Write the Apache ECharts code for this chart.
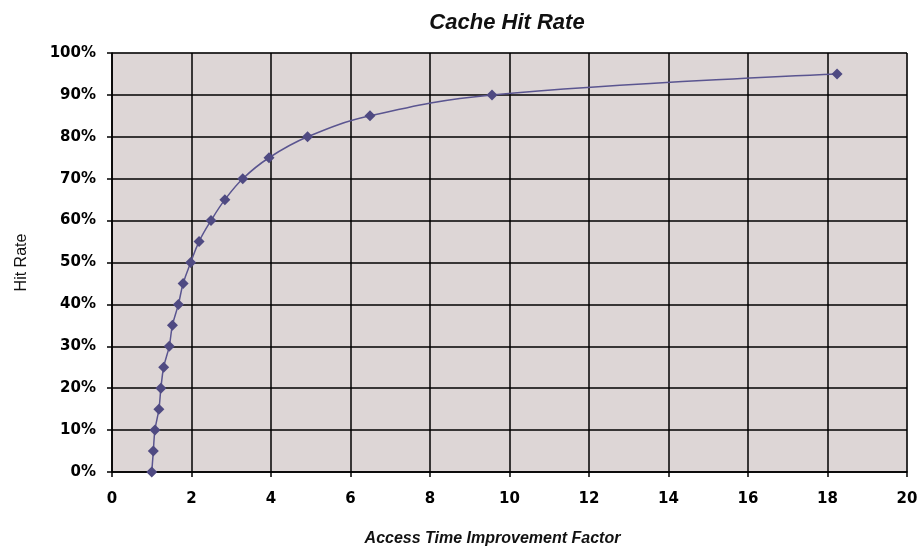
<!DOCTYPE html>
<html><head><meta charset="utf-8">
<script src="https://cdn.jsdelivr.net/npm/echarts@6/dist/echarts.min.js"></script>
<style>html,body{margin:0;padding:0;background:#fff}#c{width:918px;height:548px}</style>
</head><body><div id="c"></div>
<script>
const hitRate = [0,5,10,15,20,25,30,35,40,45,50,55,60,65,70,75,80,85,90,95];
const improvement = [1.00,1.04,1.08,1.18,1.23,1.30,1.44,1.52,1.67,1.79,1.98,2.19,2.49,2.84,3.29,3.95,4.92,6.49,9.56,18.24];
const xTicks = [0,2,4,6,8,10,12,14,16,18,20];
const yTicks = [0,10,20,30,40,50,60,70,80,90,100];

const data = improvement.map((x,i)=>[x, hitRate[i]]);
const sans = '"Liberation Sans", Arial, sans-serif';
const chart = echarts.init(document.getElementById('c'));
chart.setOption({
  animation:false,
  backgroundColor:'#fff',
  title:{text:'Cache Hit Rate', left:502, textAlign:'center', top:7,
    textStyle:{fontFamily:sans, fontStyle:'italic', fontWeight:'bold', fontSize:22, color:'#111'}},
  grid:{left:112, right:11, top:53, bottom:76, outerBoundsMode:'none', containLabel:false,
    show:true, backgroundColor:'#ddd6d6', borderColor:'#a0a0a0', borderWidth:1},
  xAxis:{type:'value', min:0, max:20, interval:2,
    name:'Access Time Improvement Factor', nameLocation:'middle', nameGap:59,
    nameTextStyle:{fontFamily:sans, fontStyle:'italic', fontWeight:'bold', fontSize:16, color:'#111', padding:[0,34,0,0]},
    axisLine:{show:true, lineStyle:{color:'#000', width:1.5}},
    axisTick:{show:true, length:5, lineStyle:{color:'#000', width:1.5}},
    axisLabel:{fontFamily:'DejaVu Sans', fontWeight:'bold', fontSize:15, color:'#000', margin:20,
      formatter:v=>xTicks.includes(v)?String(v):''},
    splitLine:{show:true, lineStyle:{color:'#000', width:1.5}}},
  yAxis:{type:'value', min:0, max:100, interval:10,
    name:'Hit Rate', nameLocation:'middle', nameGap:82, nameRotate:90,
    nameTextStyle:{fontFamily:sans, fontSize:16, color:'#111'},
    axisLine:{show:true, lineStyle:{color:'#000', width:1.5}},
    axisTick:{show:true, length:5, lineStyle:{color:'#000', width:1.5}},
    axisLabel:{fontFamily:'DejaVu Sans', fontWeight:'bold', fontSize:15, color:'#000', margin:16,
      formatter:v=>yTicks.includes(v)?v+'%':''},
    splitLine:{show:true, lineStyle:{color:'#000', width:1.5}}},
  series:[{type:'line', data:data, smooth:0.4, symbol:'diamond', symbolSize:11,
    lineStyle:{color:'#5a5590', width:1.5}, itemStyle:{color:'#4f4a82'}}]
});
</script></body></html>
